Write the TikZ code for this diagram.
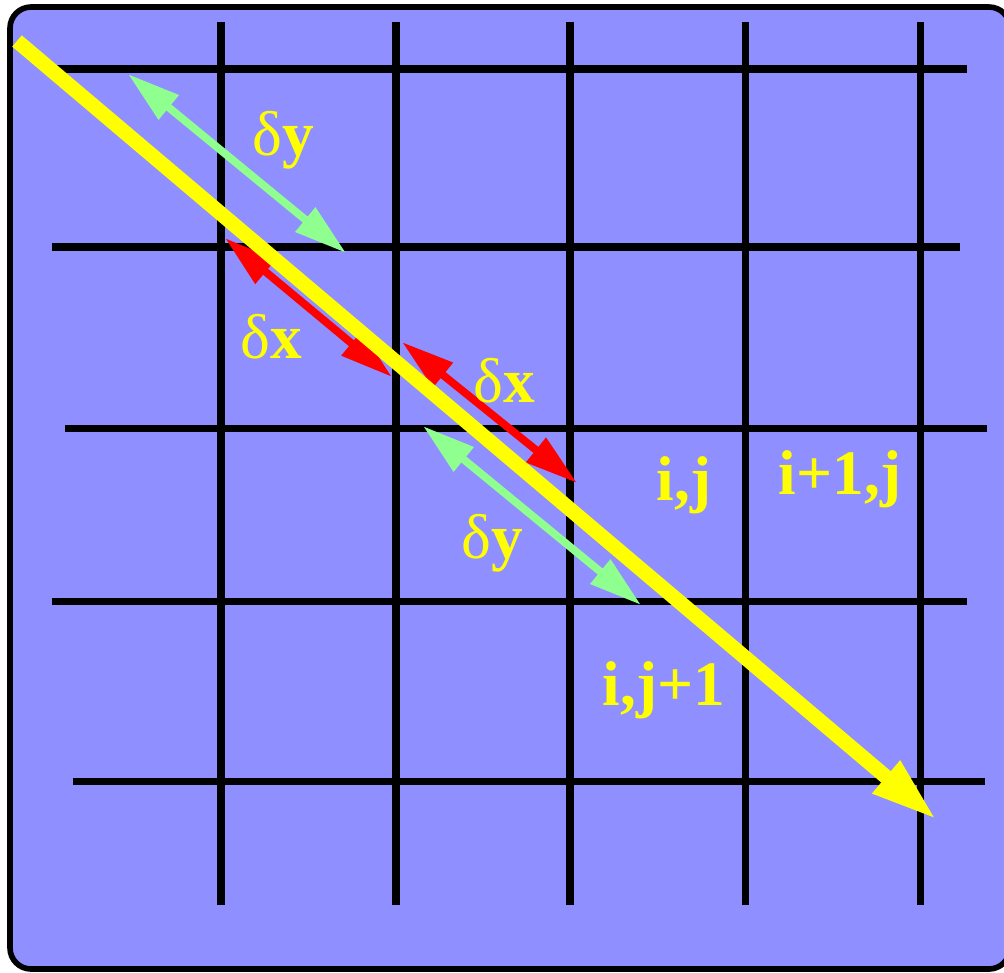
\documentclass[tikz,border=0pt]{standalone}
\usepackage{fontspec}
\setmainfont{Liberation Serif}
\usetikzlibrary{arrows.meta}
\definecolor{cellblue}{HTML}{8F8FFF}
\definecolor{softgreen}{HTML}{8FFF8F}
\definecolor{rayyellow}{HTML}{FFFF00}
\definecolor{stepred}{HTML}{FF0000}

\begin{document}
\begin{tikzpicture}[
  x=0.01cm,y=-0.01cm,
  font=\fontsize{18}{20}\selectfont\bfseries,
  gridline/.style={line width=2pt},
  ray/.style={rayyellow,line width=4.2pt,-{Triangle[length=19pt,width=11pt]}},
  dxarr/.style={stepred,line width=2.2pt,{Triangle[length=15pt,width=8.5pt]}-{Triangle[length=15pt,width=8.5pt]}},
  dyarr/.style={softgreen,line width=2.2pt,{Triangle[length=15pt,width=8.5pt]}-{Triangle[length=15pt,width=8.5pt]}},
  lbl/.style={text=rayyellow,anchor=base,inner sep=0pt}
]
\useasboundingbox (0,0) rectangle (1004,972);
\draw[fill=cellblue,line width=1.6pt,rounded corners=6pt] (10,7) rectangle (1010,969);

\foreach \x in {221,396,570,745,920}
  \draw[gridline] (\x,22) -- (\x,905);
\foreach \y/\a/\b in {69/45/967,247/52/960,428/65/987,601/52/967,781/73/985}
  \draw[gridline] (\a,\y) -- (\b,\y);

\coordinate (dyAs) at (128,74);
\coordinate (dyAe) at (346,253);
\coordinate (dxAs) at (225,238);
\coordinate (dxAe) at (392,377);
\coordinate (dxBs) at (402,342);
\coordinate (dxBe) at (577,483);
\coordinate (dyBs) at (423,426);
\coordinate (dyBe) at (641,605);
\coordinate (raystart) at (17,41);
\coordinate (rayend) at (937,820);

\draw[dyarr] (dyAs) -- (dyAe);
\draw[dxarr] (dxAs) -- (dxAe);
\draw[dxarr] (dxBs) -- (dxBe);
\draw[dyarr] (dyBs) -- (dyBe);
\draw[ray] (raystart) -- (rayend);

\node[lbl] (dyA) at (283,155) {{\mdseries δ}y};
\node[lbl] (dxA) at (271,358) {{\mdseries δ}x};
\node[lbl] (dxB) at (504,402) {{\mdseries δ}x};
\node[lbl] (dyB) at (492,558) {{\mdseries δ}y};
\node[lbl] (cij) at (684,500) {i,j};
\node[lbl] (cipj) at (840,494) {i+1,j};
\node[lbl] (cijp) at (664,705) {i,j+1};
\end{tikzpicture}
\end{document}
